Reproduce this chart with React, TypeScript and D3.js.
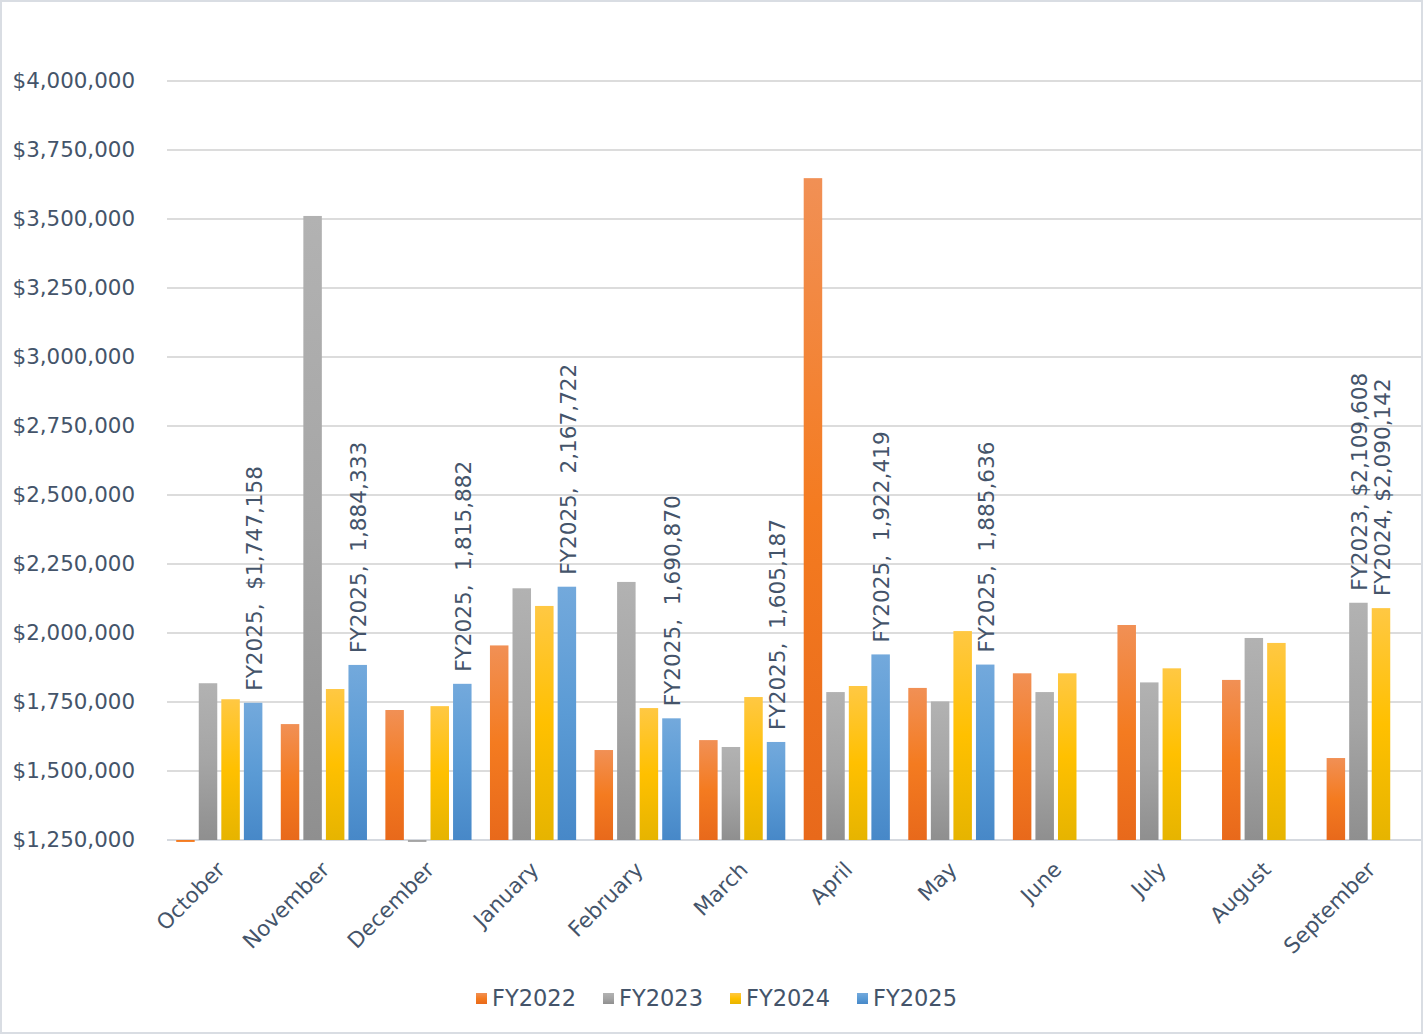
import React, { useEffect, useRef } from "react";
import * as d3 from "d3";

const months = [
  "October", "November", "December", "January", "February", "March",
  "April", "May", "June", "July", "August", "September",
];
const seriesNames = ["FY2022", "FY2023", "FY2024", "FY2025"];

// values (null = no bar)
const fy2022 = [1243000, 1670000, 1721000, 1955000, 1576000, 1612000, 3648000, 1801000, 1854000, 2029000, 1830000, 1547000];
const fy2023 = [1818000, 3511000, 1243000, 2162000, 2185000, 1587000, 1786000, 1752000, 1786000, 1821000, 1982000, 2109608];
const fy2024 = [1760000, 1797000, 1735000, 2098000, 1728000, 1768000, 1808000, 2007000, 1854000, 1872000, 1964000, 2090142];
const fy2025 = [1747158, 1884333, 1815882, 2167722, 1690870, 1605187, 1922419, 1885636, null, null, null, null];

const yTicks = [1250000, 1500000, 1750000, 2000000, 2250000, 2500000, 2750000, 3000000, 3250000, 3500000, 3750000, 4000000];

// data labels shown on the chart: [series, month, text]
const dataLabels: [string, string, string][] = [
  ["FY2025", "October", "FY2025,  $1,747,158"],
  ["FY2025", "November", "FY2025,  1,884,333"],
  ["FY2025", "December", "FY2025,  1,815,882"],
  ["FY2025", "January", "FY2025,  2,167,722"],
  ["FY2025", "February", "FY2025,  1,690,870"],
  ["FY2025", "March", "FY2025,  1,605,187"],
  ["FY2025", "April", "FY2025,  1,922,419"],
  ["FY2025", "May", "FY2025,  1,885,636"],
  ["FY2023", "September", "FY2023, $2,109,608"],
  ["FY2024", "September", "FY2024, $2,090,142"],
];

const palette: Record<string, [string, string, string]> = {
  FY2022: ["#F19055", "#F47B20", "#E8691B"],
  FY2023: ["#B2B2B2", "#A5A5A5", "#8F8F8F"],
  FY2024: ["#FFC843", "#FFC000", "#E6B400"],
  FY2025: ["#73A9DC", "#5B9BD5", "#4788C8"],
};

const W = 1423;
const H = 1034;
const textColor = "#44546A";
const font = "'DejaVu Sans', Verdana, sans-serif";

const App: React.FC = () => {
  const ref = useRef<SVGSVGElement | null>(null);

  useEffect(() => {
    document.body.style.margin = "0";
    if (!ref.current) return;
    const svg = d3.select(ref.current);
    svg.selectAll("*").remove();

    const values: Record<string, (number | null)[]> = {
      FY2022: fy2022, FY2023: fy2023, FY2024: fy2024, FY2025: fy2025,
    };

    const plot = { left: 167, right: 1421, top: 81, bottom: 840 };

    const x0 = d3.scaleBand<string>().domain(months).range([plot.left, plot.right + 1]);
    const step = x0.bandwidth();
    const x1 = d3.scaleBand<string>().domain(seriesNames)
      .range([step * 0.088, step * 0.912]).paddingInner(0.18);
    const y = d3.scaleLinear().domain([1250000, 4000000]).range([plot.bottom, plot.top]);

    svg.attr("width", W).attr("height", H);

    // gradients
    const defs = svg.append("defs");
    seriesNames.forEach((s) => {
      const g = defs.append("linearGradient").attr("id", `grad-${s}`)
        .attr("x1", 0).attr("y1", 0).attr("x2", 0).attr("y2", 1);
      g.append("stop").attr("offset", "0%").attr("stop-color", palette[s][0]);
      g.append("stop").attr("offset", "50%").attr("stop-color", palette[s][1]);
      g.append("stop").attr("offset", "100%").attr("stop-color", palette[s][2]);
    });

    // background + frame
    svg.append("rect").attr("x", 1).attr("y", 1).attr("width", W - 2).attr("height", H - 2)
      .attr("fill", "#fff").attr("stroke", "#D9DDE3").attr("stroke-width", 2);

    // gridlines
    svg.append("g").selectAll("line").data(yTicks).join("line")
      .attr("x1", plot.left).attr("x2", plot.right)
      .attr("y1", (d) => y(d)).attr("y2", (d) => y(d))
      .attr("stroke", (d) => (d === 1250000 ? "#D5D9DF" : "#DCDCDC"))
      .attr("stroke-width", 2);

    // y tick labels
    const fmt = d3.format("$,");
    svg.append("g").selectAll("text").data(yTicks).join("text")
      .attr("x", 135).attr("y", (d) => y(d)).attr("dy", "0.35em")
      .attr("text-anchor", "end").attr("font-family", font).attr("font-size", 21.4)
      .attr("fill", textColor).text((d) => fmt(d));

    // bars
    seriesNames.forEach((s) => {
      const data = months.map((m, i) => ({ m, v: values[s][i] })).filter((d) => d.v !== null) as { m: string; v: number }[];
      svg.append("g").selectAll("rect").data(data).join("rect")
        .attr("x", (d) => (x0(d.m) as number) + (x1(s) as number))
        .attr("width", x1.bandwidth())
        .attr("y", (d) => Math.min(y(d.v), y(1250000)))
        .attr("height", (d) => Math.max(Math.abs(y(1250000) - y(d.v)), 0))
        .attr("fill", (d) => (d.v < 1250000 ? palette[s][1] : `url(#grad-${s})`));
    });

    // data labels
    svg.append("g").selectAll("text").data(dataLabels).join("text")
      .attr("transform", ([s, m]) => {
        const i = months.indexOf(m);
        const v = values[s][i] as number;
        const cx = (x0(m) as number) + (x1(s) as number) + x1.bandwidth() / 2 + 1;
        return `translate(${cx},${y(v) - 12}) rotate(-90)`;
      })
      .attr("dy", "0.36em")
      .attr("text-anchor", "start").attr("font-family", font).attr("font-size", 21.6)
      .attr("fill", textColor).style("white-space", "pre")
      .text((d) => d[2]);

    // month labels
    svg.append("g").selectAll("text").data(months).join("text")
      .attr("transform", (m) => `translate(${(x0(m) as number) + step / 2 + 7},${871}) rotate(-45)`)
      .attr("text-anchor", "end").attr("font-family", font).attr("font-size", 21.5)
      .attr("fill", textColor).text((m) => m);

    // legend
    const legend = svg.append("g").attr("transform", "translate(476, 998)");
    seriesNames.forEach((s, i) => {
      const row = legend.append("g").attr("transform", `translate(${i * 127},0)`);
      row.append("rect").attr("x", 0).attr("y", -5).attr("width", 11).attr("height", 11)
        .attr("fill", `url(#grad-${s})`);
      row.append("text").attr("x", 16).attr("y", 0).attr("dy", "0.36em")
        .attr("font-family", font).attr("font-size", 22.5).attr("fill", textColor).text(s);
    });
  }, []);

  return <svg ref={ref} style={{ display: "block" }}></svg>;
};

export default App;
